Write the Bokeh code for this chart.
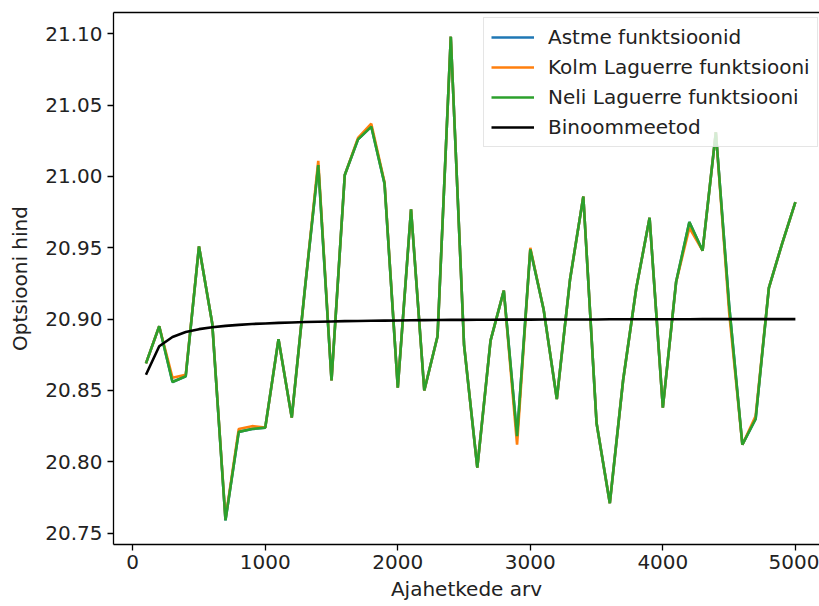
from bokeh.plotting import figure
from bokeh.models import Range1d, LinearAxis, FixedTicker, Legend, LegendItem, NumeralTickFormatter
from bokeh.embed import file_html
from bokeh.resources import INLINE

steps = list(range(100, 5001, 100))

astme = [20.869, 20.895, 20.856, 20.860, 20.951, 20.897, 20.759, 20.821, 20.823, 20.824,
         20.886, 20.831, 20.922, 21.008, 20.857, 21.001, 21.026, 21.035, 20.995, 20.852,
         20.977, 20.850, 20.888, 21.098, 20.882, 20.796, 20.885, 20.920, 20.818, 20.949,
         20.907, 20.844, 20.928, 20.986, 20.827, 20.771, 20.857, 20.922, 20.971, 20.838,
         20.926, 20.968, 20.948, 21.031, 20.910, 20.812, 20.830, 20.922, 20.953, 20.982]

kolm = [20.869, 20.895, 20.859, 20.861, 20.951, 20.897, 20.760, 20.823, 20.825, 20.824,
        20.886, 20.831, 20.922, 21.011, 20.857, 21.001, 21.027, 21.037, 20.996, 20.852,
        20.977, 20.850, 20.888, 21.098, 20.882, 20.796, 20.885, 20.920, 20.812, 20.950,
        20.907, 20.844, 20.928, 20.986, 20.827, 20.771, 20.857, 20.922, 20.971, 20.838,
        20.926, 20.964, 20.948, 21.031, 20.905, 20.812, 20.832, 20.922, 20.953, 20.982]

neli = [20.869, 20.895, 20.856, 20.860, 20.951, 20.897, 20.759, 20.821, 20.823, 20.824,
        20.886, 20.831, 20.922, 21.008, 20.857, 21.001, 21.026, 21.035, 20.995, 20.852,
        20.977, 20.850, 20.888, 21.098, 20.882, 20.796, 20.885, 20.920, 20.818, 20.949,
        20.907, 20.844, 20.928, 20.986, 20.827, 20.771, 20.857, 20.922, 20.971, 20.838,
        20.926, 20.968, 20.948, 21.031, 20.910, 20.812, 20.830, 20.922, 20.953, 20.982]

binoom = [20.8610, 20.8810, 20.8875, 20.8910, 20.8930, 20.8943, 20.8953, 20.8960, 20.8966, 20.8970,
          20.8974, 20.8977, 20.8980, 20.8982, 20.8984, 20.8986, 20.8987, 20.8989, 20.8990, 20.8991,
          20.8992, 20.8993, 20.8994, 20.8995, 20.8995, 20.8996, 20.8996, 20.8997, 20.8997, 20.8997,
          20.8998, 20.8998, 20.8998, 20.8998, 20.8998, 20.8999, 20.8999, 20.8999, 20.8999, 20.8999,
          20.8999, 20.8999, 20.9000, 20.9000, 20.9000, 20.9000, 20.9000, 20.9000, 20.9000, 20.9000]

series_labels = ["Astme funktsioonid", "Kolm Laguerre funktsiooni", "Neli Laguerre funktsiooni", "Binoommeetod"]
colors = ["#1f77b4", "#ff7f0e", "#2ca02c", "#000000"]

x_ticks = [0, 1000, 2000, 3000, 4000, 5000]
y_ticks = [20.75, 20.80, 20.85, 20.90, 20.95, 21.00, 21.05, 21.10]

FONT = "DejaVu Sans"
FS = "20px"

all_y = astme + kolm + neli + binoom
ymin, ymax = min(all_y), max(all_y)
ypad = (ymax - ymin) * 0.05
xpad = (max(steps) - min(steps)) * 0.05

p = figure(width=819, height=606, output_backend="svg", toolbar_location=None,
           x_range=Range1d(min(steps) - xpad, 5182),
           y_range=Range1d(ymin - ypad, ymax + ypad),
           min_border_left=113, min_border_right=0, min_border_top=12, min_border_bottom=62)
p.background_fill_color = "white"
p.border_fill_color = "white"
p.outline_line_color = None
p.grid.visible = False

renderers = []
for ys, c in zip([astme, kolm, neli, binoom], colors):
    r = p.line(steps, ys, line_color=c, line_width=2.6)
    renderers.append(r)

for ax in [p.xaxis[0], p.yaxis[0]]:
    ax.axis_line_color = "black"
    ax.axis_line_width = 1.3
    ax.major_tick_line_color = "black"
    ax.major_tick_line_width = 1.3
    ax.major_tick_in = 0
    ax.major_tick_out = 6
    ax.minor_tick_line_color = None
    ax.major_label_text_font = FONT
    ax.major_label_text_font_size = FS
    ax.major_label_text_color = "#222222"
    ax.axis_label_text_font = FONT
    ax.axis_label_text_font_size = FS
    ax.axis_label_text_font_style = "normal"
    ax.axis_label_text_color = "#222222"

p.xaxis.ticker = FixedTicker(ticks=x_ticks)
p.yaxis.ticker = FixedTicker(ticks=y_ticks)
p.yaxis.formatter = NumeralTickFormatter(format="0.00")
p.xaxis.axis_label = "Ajahetkede arv"
p.yaxis.axis_label = "Optsiooni hind"
p.xaxis.major_label_standoff = 4
p.yaxis.major_label_standoff = 5
p.xaxis.axis_label_standoff = 5
p.yaxis.axis_label_standoff = 10

top = LinearAxis(ticker=FixedTicker(ticks=[]), major_label_text_font_size="0px",
                 major_tick_line_color=None, minor_tick_line_color=None,
                 axis_line_color="black", axis_line_width=1.3, major_label_standoff=0)
p.add_layout(top, "above")

legend = Legend(items=[LegendItem(label=l, renderers=[r]) for l, r in zip(series_labels, renderers)],
                location=(370, 397))
legend.label_text_font = FONT
legend.label_text_font_size = FS
legend.label_text_color = "#222222"
legend.glyph_width = 43
legend.glyph_height = 20
legend.label_height = 20
legend.spacing = 6
legend.padding = 7
legend.margin = 0
legend.label_standoff = 14
legend.border_line_color = "#cccccc"
legend.border_line_width = 1
legend.background_fill_alpha = 0.8
p.add_layout(legend)

open("out.html", "w").write(file_html(p, INLINE))
